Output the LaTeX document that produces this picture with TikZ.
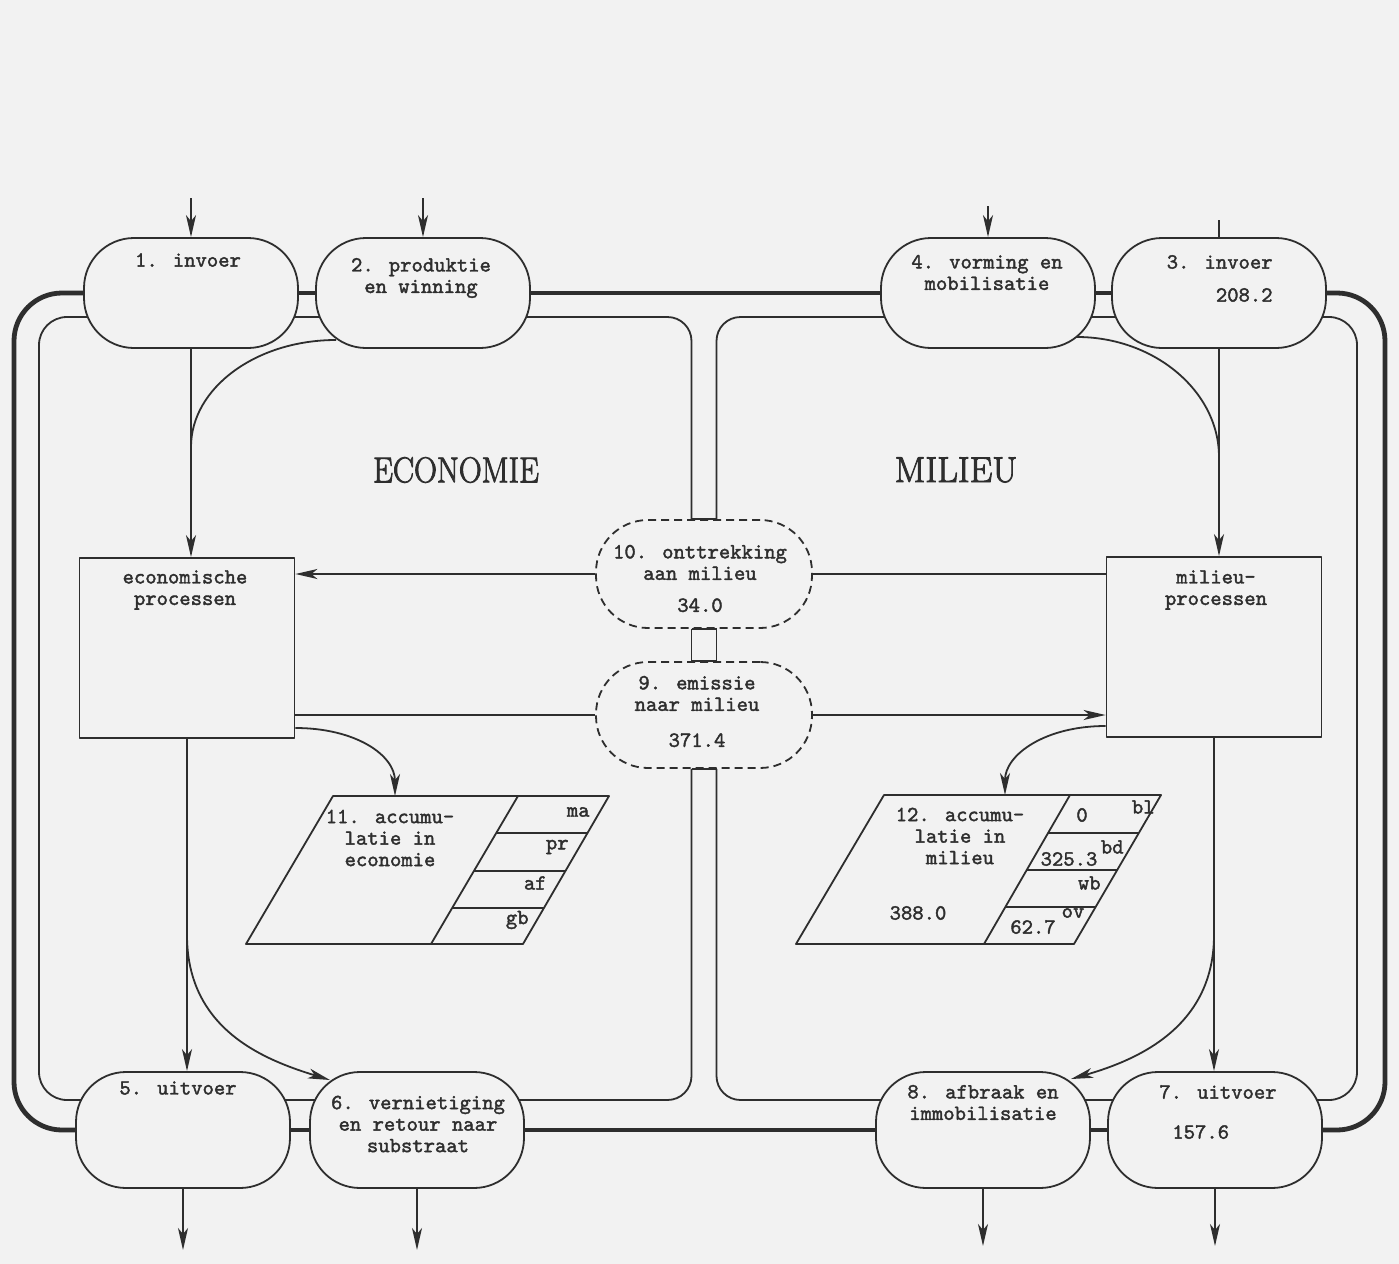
\documentclass[tikz,border=0pt]{standalone}
\usepackage{fontspec}
\usepackage{graphicx}
\usepackage{xcolor}
\usepackage{tikz}
\usetikzlibrary{shapes,arrows.meta,backgrounds}

\definecolor{paper}{gray}{0.95}
\definecolor{ink}{gray}{0.18}
\newfontfamily\flowfam{Latin Modern Mono}[FakeBold=1.8]
\newfontfamily\titlefam{Latin Modern Roman}[FakeBold=2.5]
\newcommand{\flowfont}{\flowfam\fontsize{10.8pt}{10.75pt}\selectfont}

\begin{document}
\begin{tikzpicture}[x=0.5pt, y=-0.5pt, line join=round]
	% Define the styles
	\tikzstyle{pill}=[draw=ink, fill=paper, line width=0.9pt, rounded corners=25pt, minimum width=107pt, minimum height=55pt, inner sep=0pt]
	\tikzstyle{lowpill}=[pill, minimum height=58pt]
	\tikzstyle{dashpill}=[pill, dash pattern=on 4pt off 2.5pt, rounded corners=26pt, minimum width=108pt, minimum height=54pt]
	\tikzstyle{procbox}=[draw=ink, fill=paper, line width=0.9pt, minimum width=107.5pt, minimum height=90pt, inner sep=0pt]
	\tikzstyle{txt}=[font=\flowfont, text=ink, align=center, inner sep=0pt]
	\tikzstyle{title}=[font=\titlefam\fontsize{18pt}{20pt}\selectfont, text=ink, inner sep=0pt]
	\tikzstyle{link}=[draw=ink, line width=0.9pt]
	\tikzstyle{arr}=[link, -{Stealth[length=11pt, width=5pt, inset=3pt]}]
	\tikzstyle{fatpipe}=[draw=ink, line width=2.4pt]

	\useasboundingbox (0,0) rectangle (1399,1264);

	% Define nodes
	\node (n1) [pill] at (191,293) {};
	\node (n2) [pill] at (423,293) {};
	\node (n4) [pill] at (988,293) {};
	\node (n3) [pill] at (1219,293) {};
	\node (n5) [lowpill] at (183,1130) {};
	\node (n6) [lowpill] at (417,1130) {};
	\node (n8) [lowpill] at (983,1130) {};
	\node (n7) [lowpill] at (1215,1130) {};
	\node (n10) [dashpill] at (704,574) {};
	\node (n9) [dashpill, minimum height=53pt] at (704,715) {};
	\node (econ) [procbox] at (187,648) {};
	\node (milieu) [procbox] at (1214,647) {};

	% Free ends
	\coordinate (in1) at (191,198);
	\coordinate (in2) at (423,198);
	\coordinate (in4) at (988,206);
	\coordinate (in3) at (1219,220);
	\coordinate (out5) at (183,1250);
	\coordinate (out6) at (417,1250);
	\coordinate (out8) at (983,1246);
	\coordinate (out7) at (1215,1246);
	\coordinate (m1) at (n1.south |- 0,447);
	\coordinate (m4) at (n3.south |- 0,457);
	\coordinate (b5) at (econ.south |- 0,935);
	\coordinate (b7) at (milieu.south |- 0,935);
	\coordinate (a11) at (395,796);
	\coordinate (a12) at (1005,795);

	% Texts
	\node (t1) [txt] at (188,260) {1. invoer};
	\node (t2) [txt] at (421,278) {2. produktie\\en winning};
	\node (t4) [txt] at (987,272.5) {4. vorming en\\mobilisatie};
	\node (t3) [txt, align=right, anchor=east] at (1273,278.5) {3. invoer\\[5.75pt]208.2};
	\node (t5) [txt] at (178,1088) {5. uitvoer};
	\node (t6) [txt] at (418,1124) {6. vernietiging\\en retour naar\\substraat};
	\node (t8) [txt] at (983,1102.5) {8. afbraak en\\immobilisatie};
	\node (t7) [txt, align=left, anchor=west] at (1159,1112) {7. uitvoer\\[9.25pt]\hspace*{0.6em}157.6};
	\node (t10) [txt] at (700,578.5) {10. onttrekking\\aan milieu\\[5.25pt]34.0};
	\node (t9) [txt] at (697,711.5) {9. emissie\\naar milieu\\[7.25pt]371.4};
	\node (te) [txt] at (185,590) {economische\\processen};
	\node (tm) [txt] at (1216,590) {milieu-\\processen};
	\node (eco) [title] at (456,470) {\scalebox{0.88}[1]{ECONOMIE}};
	\node (mil) [title] at (956,470) {MILIEU};

	% Accumulation in economy
	\draw[link] (333,796) -- (609,796) -- (523,944) -- (246,944) -- cycle;
	\draw[link] (518,796) -- (431,944);
	\draw[link] (496,833) -- (587,833);
	\draw[link] (474,871) -- (565,871);
	\draw[link] (452,908) -- (544,908);
	\node (t11) [txt] at (390,838) {11. accumu-\\latie in\\economie};
	\node (ma) [txt, anchor=east] at (590,812) {ma};
	\node (pr) [txt, anchor=east] at (569,847) {pr};
	\node (af) [txt, anchor=east] at (547,883) {af};
	\node (gb) [txt, anchor=east] at (529,920) {gb};

	% Accumulation in environment
	\draw[link] (884,795) -- (1161,795) -- (1074,944) -- (796,944) -- cycle;
	\draw[link] (1070,795) -- (984,944);
	\draw[link] (1048,833) -- (1139,833);
	\draw[link] (1027,870) -- (1117,870);
	\draw[link] (1005,907) -- (1096,907);
	\node (t12) [txt] at (960,836) {12. accumu-\\latie in\\milieu};
	\node (bl) [txt, anchor=east] at (1155,807) {bl};
	\node (v0) [txt] at (1082,815) {0};
	\node (bd) [txt, anchor=east] at (1124,847) {bd};
	\node (vbd) [txt] at (1069,859) {325.3};
	\node (wb) [txt, anchor=east] at (1101,883) {wb};
	\node (ov) [txt] at (1073,913) {ov};
	\node (vov) [txt] at (1033,927) {62.7};
	\node (vtot) [txt] at (918,913) {388.0};

	% Define edges
	\draw[arr] (in1) -- (n1.north);
	\draw[arr] (in2) -- (n2.north);
	\draw[arr] (in4) -- (n4.north);
	\draw[link] (in3) -- (n3.north);
	\draw[arr] (n5.south) -- (out5);
	\draw[arr] (n6.south) -- (out6);
	\draw[arr] (n8.south) -- (out8);
	\draw[arr] (n7.south) -- (out7);

	\draw[arr] (n1.south) -- (n1.south |- econ.north);
	\draw[link] ([shift={(-87,47)}]n2.center) .. controls +(-80,0) and +(0,-59) .. (m1);
	\draw[arr] (n3.south) -- (n3.south |- milieu.north);
	\draw[link] ([shift={(89,44)}]n4.center) .. controls +(77,0) and +(0,-66) .. (m4);

	\draw[arr] (n10.west) -- (n10.west -| econ.east);
	\draw[link] (milieu.west |- n10.east) -- (n10.east);
	\draw[link] (econ.east |- n9.west) -- (n9.west);
	\draw[arr] (n9.east) -- (n9.east -| milieu.west);

	\draw[arr] ([yshift=-40pt]econ.east) .. controls +(60,0) and +(0,-41) .. (a11);
	\draw[arr] ([yshift=-39.5pt]milieu.west) .. controls +(-61,0) and +(0,-40) .. (a12);

	\draw[arr] (econ.south) -- (econ.south |- n5.north);
	\draw[arr] (b5) .. controls +(0,95) and +(-65,-20) .. ([shift={(-87,-50)}]n6.center);
	\draw[arr] (milieu.south) -- (milieu.south |- n7.north);
	\draw[arr] (b7) .. controls +(0,90) and +(70,-20) .. ([shift={(88,-51)}]n8.center);

	% Pipe caps at the dashed nodes
	\draw[link] ([xshift=-6.25pt]n10.north) -- ([xshift=6.25pt]n10.north);
	\draw[link] ([xshift=-6.25pt]n10.south) -- ([xshift=6.25pt]n10.south);
	\draw[link] ([xshift=-6.25pt]n9.north) -- ([xshift=6.25pt]n9.north);
	\draw[link] ([xshift=-6.25pt]n9.south) -- ([xshift=6.25pt]n9.south);

	% Pipes (under the nodes)
	\begin{pgfonlayer}{background}
		\fill[paper] (0,0) rectangle (1399,1264);
		% thick loop
		\draw[fatpipe, rounded corners=24pt] (n1.center) -| (14,700) |- (n5.center);
		\draw[fatpipe] (n1.center) -- (n2.center) -- (n4.center) -- (n3.center);
		\draw[fatpipe, rounded corners=24pt] (n3.center) -| (1385,700) |- (n7.center);
		\draw[fatpipe] (n7.center) -- (n8.center) -- (n6.center) -- (n5.center);
		% thin loop
		\draw[link, rounded corners=14pt] ([yshift=-12pt]n1.center) -| (39,700) |- ([yshift=15pt]n5.center);
		\draw[link] ([yshift=-12pt]n1.center) -- ([yshift=-12pt]n2.center);
		\draw[link, rounded corners=12pt] ([yshift=-12pt]n2.center) -| ([xshift=-6.25pt]n10.north);
		\draw[link, rounded corners=12pt] ([xshift=6.25pt]n10.north) |- ([yshift=-12pt]n4.center);
		\draw[link] ([yshift=-12pt]n4.center) -- ([yshift=-12pt]n3.center);
		\draw[link, rounded corners=14pt] ([yshift=-12pt]n3.center) -| (1357,700) |- ([yshift=15pt]n7.center);
		\draw[link] ([yshift=15pt]n7.center) -- ([yshift=15pt]n8.center);
		\draw[link, rounded corners=12pt] ([yshift=15pt]n8.center) -| ([xshift=6.25pt]n9.south);
		\draw[link, rounded corners=12pt] ([xshift=-6.25pt]n9.south) |- ([yshift=15pt]n6.center);
		\draw[link] ([yshift=15pt]n6.center) -- ([yshift=15pt]n5.center);
		\draw[link] ([xshift=-6.25pt]n10.south) -- ([xshift=-6.25pt]n9.north);
		\draw[link] ([xshift=6.25pt]n10.south) -- ([xshift=6.25pt]n9.north);
	\end{pgfonlayer}
\end{tikzpicture}
\end{document}
